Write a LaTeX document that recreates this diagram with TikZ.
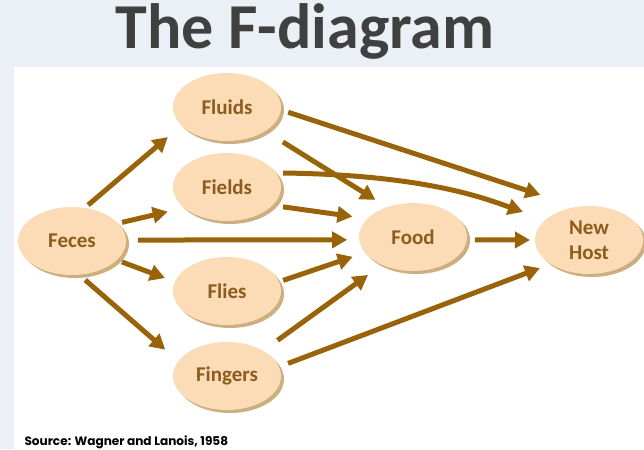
\documentclass[tikz,border=0pt]{standalone}
\usepackage{fontspec}
\setmainfont{Carlito}
\newfontfamily\srcfont{Poppins}
\usepackage{tikz}
\usetikzlibrary{positioning,arrows.meta,shapes.geometric,shadows}
\definecolor{fhead}{HTML}{404040}
\definecolor{fpeach}{HTML}{FBDCB6}
\definecolor{frim}{HTML}{CDAE7E}
\definecolor{fbrown}{HTML}{996409}
\definecolor{ftext}{HTML}{8C5C1C}
\definecolor{fslide}{HTML}{EAF0F6}
\tikzset{
  blob/.style={ellipse, fill=fpeach, minimum width=108pt, minimum height=68pt,
    inner sep=0pt, outer sep=0pt, align=center, text=ftext,
    font=\bfseries\fontsize{21}{25}\selectfont,
    drop shadow={shadow xshift=3pt, shadow yshift=-3pt, fill=frim, opacity=1}},
}

\begin{document}
\begin{tikzpicture}[x=1pt, y=-1pt, -{Triangle[length=15pt,width=16pt]}, line width=5pt, draw=fbrown]
\fill[fslide] (0, 0) rectangle (644, 449);
\path (305, 49) node[anchor=base, text=fhead, font=\bfseries\fontsize{64}{64}\selectfont] (title) {The F-diagram};
\fill[white] (14, 67) rectangle (644, 449);
\path (22, 445) node[anchor=base west, inner sep=0pt, font=\srcfont\bfseries\fontsize{12.1}{13}\selectfont] (src) {Source: Wagner and Lanois, 1958};

\path (72, 241) node[blob] (feces) {Feces};
\foreach \na / \y / \txt in {fluids/107/Fluids, fields/187/Fields, flies/291/Flies, fingers/376/Fingers}
    \path (227, \y) node[blob] (\na) {\txt};
\path (413, 237) node[blob] (food) {Food};
\path (589, 240) node[blob] (host) {New\\Host};

% straight transmission routes
\foreach \a / \b / \s / \t / \l / \r in {feces/fluids/69/202/4.5/18, feces/fields/21.5/206/4/17,
    feces/food/1/183/12/12, feces/flies/-23/170/5.5/10.7, feces/fingers/-78/163.5/8/17.5,
    fluids/food/-32/131.6/20.7/13.7, fluids/host/-3.8/110.5/7.8/38.5, fields/food/-22/158.8/10.7/15.3,
    food/host/-3/180/8/5, flies/food/10.5/198.5/4.4/13, fingers/food/35.9/222/17.8/17.3,
    fingers/host/10.5/212/9.7/11.5}{
    \draw[shorten <=\l pt, shorten >=\r pt] (\a.\s) -- (\b.\t);
};

\draw[shorten <=7pt, shorten >=24pt] (fields.16) .. controls +(150, 2) and +(-60, -21) .. (host.155);
\end{tikzpicture}
\end{document}
